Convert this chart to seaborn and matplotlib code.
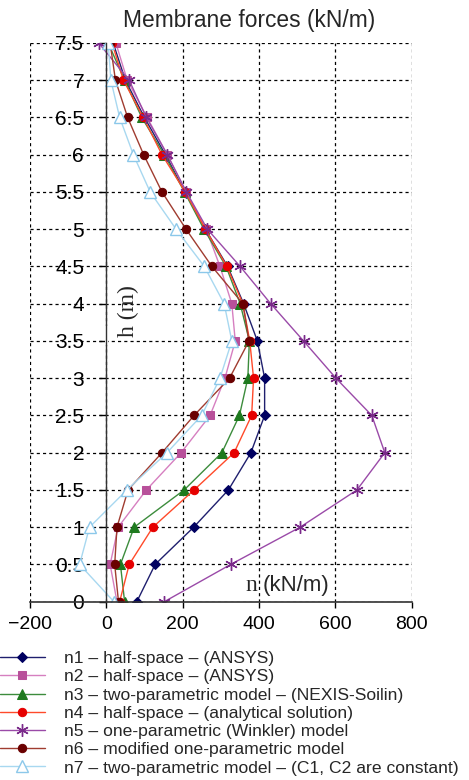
import matplotlib
matplotlib.use("Agg")
import matplotlib.pyplot as plt
import seaborn as sns
import numpy as np

h = [0, 0.5, 1, 1.5, 2, 2.5, 3, 3.5, 4, 4.5, 5, 5.5, 6, 6.5, 7, 7.5]
n1 = [80, 128, 229, 320, 379, 415, 415, 396, 360, 318, 260, 207, 155, 100, 50, 18]
n2 = [28, 10, 31, 105, 196, 272, 311, 338, 329, 298, 262, 209, 160, 107, 55, 25]
n3 = [48, 37, 73, 204, 303, 349, 371, 375, 351, 314, 256, 205, 152, 93, 48, 5]
n4 = [35, 60, 122, 230, 335, 381, 386, 376, 358, 316, 260, 207, 146, 97, 45, 15]
n5 = [152, 326, 508, 657, 730, 696, 602, 517, 431, 351, 265, 210, 160, 105, 60, -20]
n6 = [32, 22, 28, 57, 146, 230, 323, 374, 358, 277, 209, 146, 98, 56, 24, 10]
n7 = [20, -70, -44, 54, 159, 250, 298, 329, 309, 257, 183, 115, 71, 35, 12, 5]

labels = [
    "n1 \u2013 half-space \u2013 (ANSYS)",
    "n2 \u2013 half-space \u2013 (ANSYS)",
    "n3 \u2013 two-parametric model \u2013 (NEXIS-Soilin)",
    "n4 \u2013 half-space \u2013 (analytical solution)",
    "n5 \u2013 one-parametric (Winkler) model",
    "n6 \u2013 modified one-parametric model",
    "n7 \u2013 two-parametric model \u2013 (C1, C2 are constant)",
]
xticks = [-200, 0, 200, 400, 600, 800]
yticks = [0, 0.5, 1, 1.5, 2, 2.5, 3, 3.5, 4, 4.5, 5, 5.5, 6, 6.5, 7, 7.5]

sns.set_style("white")
plt.rcParams['font.family'] = ['Liberation Sans', 'DejaVu Sans']

fig = plt.figure(figsize=(4.69, 7.80), dpi=100)
ax = fig.add_axes([30/469, 1-601.7/780, (411.5-30)/469, (601.7-43)/780])

styles = [
    dict(color="#1f1f6e", marker="D", mfc="#000060", mec="#000060", ms=5),
    dict(color="#d67fc0", marker="s", mfc="#b8509a", mec="#b8509a", ms=6),
    dict(color="#3c8c3c", marker="^", mfc="#1e7a1e", mec="#1e7a1e", ms=7),
    dict(color="#ff4a2a", marker="o", mfc="#e60000", mec="#e60000", ms=6),
    dict(color="#9a4aa8", marker=(6, 2, 0), mfc="#6a1a7a", mec="#7a2a8a", ms=9, mew=1.0),
    dict(color="#a03c30", marker="o", mfc="#6a0000", mec="#6a0000", ms=6),
    dict(color="#a8d8f0", marker="^", mfc="white", mec="#8cc8ea", ms=8, mew=1.0),
]
series = [n1, n2, n3, n4, n5, n6, n7]
for vals, lab, st in zip(series, labels, styles):
    st = dict(st)
    col = st.pop("color")
    sns.lineplot(x=vals, y=h, sort=False, estimator=None, ax=ax, color=col,
                 lw=1.0, label=lab, **st)

ax.set_xlim(-200, 800)
ax.set_ylim(0, 7.5)
ax.set_xticks(xticks)
ax.set_yticks(yticks)
ax.set_xticklabels(["\u2212200" if t < 0 else str(t) for t in xticks])
ax.set_yticklabels([("%g" % t) for t in yticks])
ax.grid(True, color="black", linestyle=(0, (2.5, 2.5)), lw=0.9)
for s in ["top", "right"]:
    ax.spines[s].set_visible(False)
ax.spines["left"].set_position(("data", 0))
ax.spines["left"].set_color("#333333")
ax.spines["bottom"].set_color("#333333")
ax.spines["left"].set_linewidth(1.0)
ax.spines["bottom"].set_linewidth(1.2)
ax.tick_params(axis="y", direction="out", length=5, width=1, pad=11, left=True,
               colors="black", labelsize=15)
ax.tick_params(axis="x", direction="out", length=4.5, width=1, pad=6, bottom=True,
               colors="black", labelsize=14)
for t in ax.get_yticklabels():
    t.set_fontsize(15)
ax.set_axisbelow(True)
# break in spine behind axis label
ax.axvspan(-4, 4, ymin=(601.7-345)/558.7, ymax=(601.7-326)/558.7, color="white", zorder=2.5, lw=0)

ax.text(57, 3.9, "h (m)", rotation=90, ha="center", va="center", fontsize=17,
        family=["Liberation Serif", "DejaVu Serif"])
ax.text(380, 0.22, "n", ha="center", va="center", fontsize=17,
        family=["Liberation Serif", "DejaVu Serif"])
ax.text(411, 0.22, "(kN/m)", ha="left", va="center", fontsize=16)

fig.text(249/469, 1-21/780, "Membrane forces (kN/m)", ha="center", va="center", fontsize=16.4)

ax.get_legend().remove()
handles, labs = ax.get_legend_handles_labels()
fig.legend(handles, labs, loc="upper left", bbox_to_anchor=(0.0, 1-651/780),
           frameon=False, fontsize=12.6, handlelength=2.55, handletextpad=1.12,
           labelspacing=0.17, borderpad=0, borderaxespad=0)

fig.savefig("out.png", dpi=100)
